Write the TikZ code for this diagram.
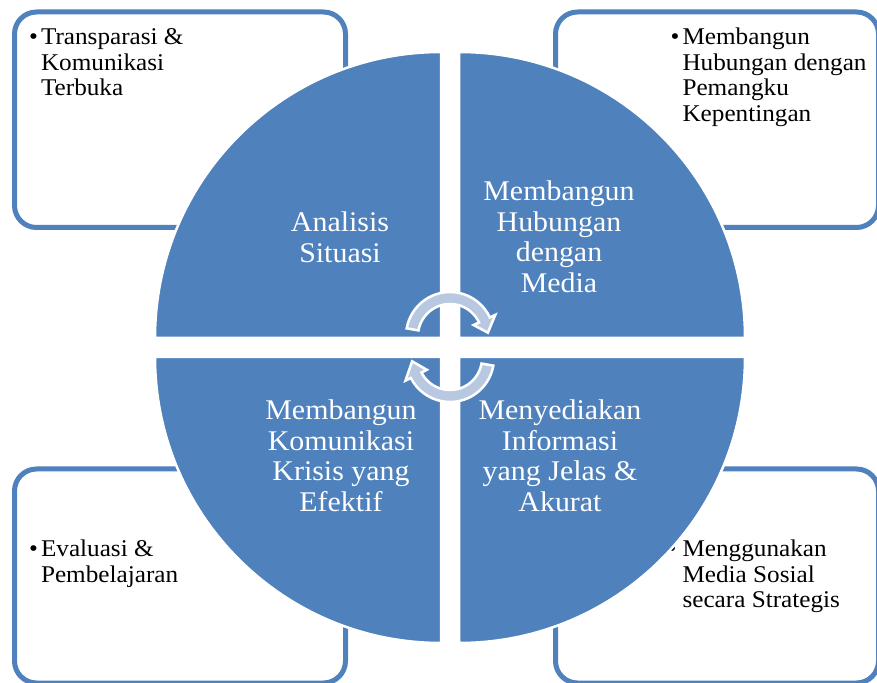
\documentclass[tikz,border=0pt]{standalone}
\usepackage{fontspec}
\setmainfont[FakeStretch=1.05]{Liberation Serif}
\definecolor{qblue}{HTML}{4F81BD}
\definecolor{arrowfill}{HTML}{B9C8E1}
\begin{document}
\begin{tikzpicture}[x=1pt,y=1pt,
  box/.style={draw=qblue, line width=5pt, rounded corners=22pt, inner sep=0pt, fill=white},
  quad/.style={fill=qblue, draw=white, line width=2.5pt},
  qtext/.style={text=white, font=\fontsize{28.5}{30.4}\selectfont, anchor=base, inner sep=0pt},
  btext/.style={text=black, font=\fontsize{24}{25.5}\selectfont, anchor=base west, inner sep=0pt},
  cyc/.style={fill=arrowfill, draw=white, line width=2.5pt, line join=miter}]
\useasboundingbox (0,0) rectangle (877,682);
\fill[white] (0,0) rectangle (877,682);
% outer boxes
\node[box, minimum width=331pt, minimum height=215.5pt] (boxTL) at (180,562.25) {};
\node[box, minimum width=323pt, minimum height=215.5pt] (boxTR) at (717,562.25) {};
\node[box, minimum width=331pt, minimum height=214pt] (boxBL) at (180,106) {};
\node[box, minimum width=323pt, minimum height=214pt] (boxBR) at (717,106) {};
% box texts
\node[btext] (txTL) at (29,637) {\begin{tabular}[t]{@{}l@{\hspace{3pt}}l@{}}\textbullet & Transparasi \&\\ & Komunikasi\\ & Terbuka\end{tabular}};
\node[btext] (txTR) at (670.5,637) {\begin{tabular}[t]{@{}l@{\hspace{3pt}}l@{}}\textbullet & Membangun\\ & Hubungan dengan\\ & Pemangku\\ & Kepentingan\end{tabular}};
\node[btext] (txBL) at (29,125) {\begin{tabular}[t]{@{}l@{\hspace{3pt}}l@{}}\textbullet & Evaluasi \&\\ & Pembelajaran\end{tabular}};
\node[btext] (txBR) at (667.5,125) {\begin{tabular}[t]{@{}l@{\hspace{6pt}}l@{}}\textbullet & Menggunakan\\ & Media Sosial\\ & secara Strategis\end{tabular}};
% quadrants
\path[quad] (441,344) -- (155,344) arc[start angle=180, end angle=90, radius=286] -- cycle;
\path[quad] (459,344) -- (745,344) arc[start angle=0, end angle=90, radius=286] -- cycle;
\path[quad] (441,325) -- (155,325) arc[start angle=180, end angle=270, radius=286] -- cycle;
\path[quad] (459,325) -- (745,325) arc[start angle=0, end angle=-90, radius=286] -- cycle;
% quadrant texts
\node[qtext] (qTL) at (340,450) {\begin{tabular}[t]{@{}c@{}}Analisis\\Situasi\end{tabular}};
\node[qtext] (qTR) at (559,481) {\begin{tabular}[t]{@{}c@{}}Membangun\\Hubungan\\dengan\\Media\end{tabular}};
\node[qtext] (qBL) at (341,262) {\begin{tabular}[t]{@{}c@{}}Membangun\\Komunikasi\\Krisis yang\\Efektif\end{tabular}};
\node[qtext] (qBR) at (560,262) {\begin{tabular}[t]{@{}c@{}}Menyediakan\\Informasi\\yang Jelas \&\\Akurat\end{tabular}};
% cycle arrows
\path[cyc, shift={(450,346)}] (170:44) arc[start angle=170, end angle=25, radius=44] -- (25:50) -- (5:38) -- (25:26) -- (25:32) arc[start angle=25, end angle=170, radius=32] -- cycle;
\path[cyc, shift={(450,324)}] (-10:44) arc[start angle=-10, end angle=-153, radius=44] -- (-153:50) -- (-175:38) -- (-153:26) -- (-153:32) arc[start angle=-153, end angle=-10, radius=32] -- cycle;
\end{tikzpicture}
\end{document}
